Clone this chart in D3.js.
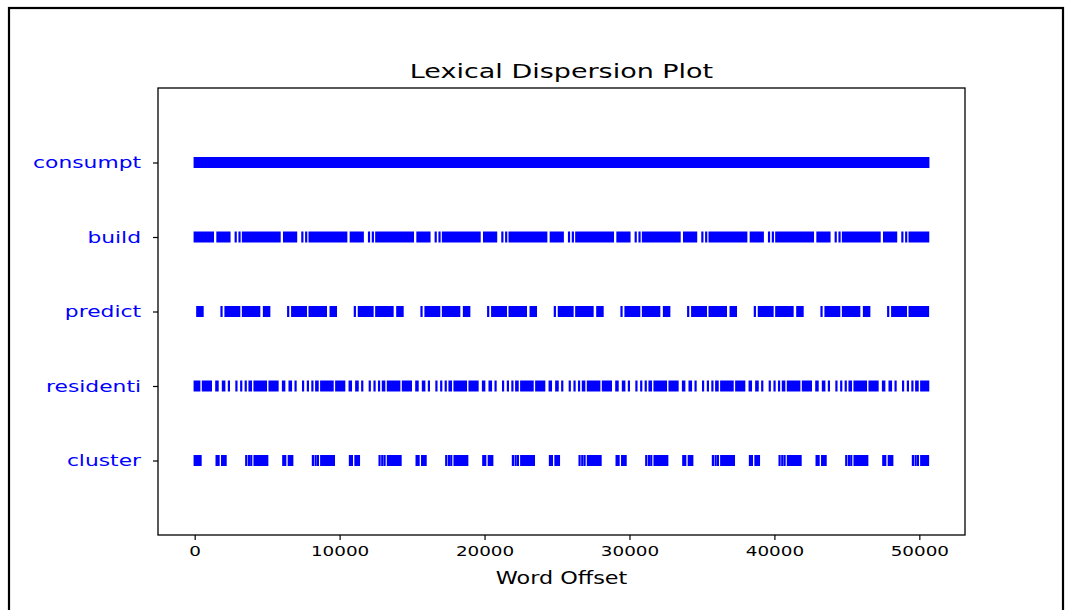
<!DOCTYPE html>
<html>
<head>
<meta charset="utf-8">
<script src="https://cdn.jsdelivr.net/npm/d3@7"></script>
<style>
  html, body { margin: 0; padding: 0; background: #fff; }
  svg { display: block; }
  text { font-family: "DejaVu Sans", sans-serif; }
</style>
</head>
<body>
<svg id="chart" width="1080" height="610"></svg>
<script>
// Words shown on the y axis, top to bottom
const words = ["consumpt", "build", "predict", "residenti", "cluster"];

// Word offsets of each occurrence: a number is a single hit,
// a pair [from, to] is a stretch of hits too dense to tell apart
const consumptHits = [
  [0, 4225], [4270, 8875], [8915, 13435], [13475, 18040], [18080, 22645],
  [22685, 27175], [27215, 31785], [31825, 36390], [36430, 40990],
  [41030, 45595], [45635, 50200], [50240, 50620]
];

const buildHits = [
  [0, 1259], [1569, 2399],
  2829, 3094, [3329, 5859], [6169, 6999],
  7429, 7694, [7929, 10459], [10769, 11599],
  12029, 12294, [12529, 15059], [15369, 16199],
  16629, 16894, [17129, 19659], [19969, 20799],
  21229, 21494, [21729, 24259], [24569, 25399],
  25829, 26094, [26329, 28859], [29169, 29999],
  30429, 30694, [30929, 33459], [33769, 34599],
  35029, 35294, [35529, 38059], [38369, 39199],
  39629, 39894, [40129, 42659], [42969, 43799],
  44229, 44494, [44729, 47259], [47569, 48399],
  48829, 49094, [49329, 50610]
];

const predictHits = [
  [179, 545],
  1851, [2127, 3073], [3329, 4454], [4779, 5145],
  6451, [6727, 7673], [7929, 9054], [9379, 9745],
  11051, [11327, 12273], [12529, 13654], [13979, 14345],
  15651, [15927, 16873], [17129, 18254], [18579, 18945],
  20251, [20527, 21473], [21729, 22854], [23179, 23545],
  24851, [25127, 26073], [26329, 27454], [27779, 28145],
  29451, [29727, 30673], [30929, 32054], [32379, 32745],
  34051, [34327, 35273], [35529, 36654], [36979, 37345],
  38651, [38927, 39873], [40129, 41254], [41579, 41945],
  43251, [43527, 44473], [44729, 45854], [46179, 46545],
  47851, [48127, 49073], [49329, 50600]
];

const residentiHits = [
  [0, 317], [566, 1118], [1491, 1581], [1947, 2043], 2361,
  2880, 3211, 3522, [3785, 3881], [4130, 4917], [5166, 5718], [6091, 6181], [6547, 6643], 6961,
  7480, 7811, 8122, [8385, 8481], [8730, 9517], [9766, 10318], [10691, 10781], [11147, 11243], 11561,
  12080, 12411, 12722, [12985, 13081], [13330, 14117], [14366, 14918], [15291, 15381], [15747, 15843], 16161,
  16680, 17011, 17322, [17585, 17681], [17930, 18717], [18966, 19518], [19891, 19981], [20347, 20443], 20761,
  21280, 21611, 21922, [22185, 22281], [22530, 23317], [23566, 24118], [24491, 24581], [24947, 25043], 25361,
  25880, 26211, 26522, [26785, 26881], [27130, 27917], [28166, 28718], [29091, 29181], [29547, 29643], 29961,
  30480, 30811, 31122, [31385, 31481], [31730, 32517], [32766, 33318], [33691, 33781], [34147, 34243], 34561,
  35080, 35411, 35722, [35985, 36081], [36330, 37117], [37366, 37918], [38291, 38381], [38747, 38843], 39161,
  39680, 40011, 40322, [40585, 40681], [40930, 41717], [41966, 42518], [42891, 42981], [43347, 43443], 43761,
  44280, 44611, 44922, [45185, 45281], [45530, 46317], [46566, 47118], [47491, 47581], [47947, 48043], 48361,
  48880, 49211, 49522, [49785, 49881], [50130, 50610]
];

const clusterHits = [
  [0, 407], [1512, 1650], [1892, 2134],
  3557, 3743, 3902, [4130, 5007], [6112, 6250], [6492, 6734],
  8157, 8343, 8502, [8730, 9607], [10712, 10850], [11092, 11334],
  12757, 12943, 13102, [13330, 14207], [15312, 15450], [15692, 15934],
  17357, 17543, 17702, [17930, 18807], [19912, 20050], [20292, 20534],
  21957, 22143, 22302, [22530, 23407], [24512, 24650], [24892, 25134],
  26557, 26743, 26902, [27130, 28007], [29112, 29250], [29492, 29734],
  31157, 31343, 31502, [31730, 32607], [33712, 33850], [34092, 34334],
  35757, 35943, 36102, [36330, 37207], [38312, 38450], [38692, 38934],
  40357, 40543, 40702, [40930, 41807], [42912, 43050], [43292, 43534],
  44957, 45143, 45302, [45530, 46407], [47512, 47650], [47892, 48134],
  49557, 49743, 49902, [50130, 50600]
];

const xTickValues = [0, 10000, 20000, 30000, 40000, 50000];
const titleText = "Lexical Dispersion Plot";
const xLabelText = "Word Offset";

const hitsByWord = [consumptHits, buildHits, predictHits, residentiHits, clusterHits];

// ---- layout ----
const svg = d3.select("#chart");
const frame = { left: 158, right: 965, top: 88, bottom: 535 };
const stretch = 1.33;          // horizontal text stretch of the figure
const markColor = "#0000ff";
const markWidth = 2.2;
const markHeight = 11;

// outer border around the figure
svg.append("rect")
  .attr("x", 9).attr("y", 8)
  .attr("width", 1054).attr("height", 700)
  .attr("fill", "#fff")
  .attr("stroke", "#000")
  .attr("stroke-width", 2.2);

// normalise hits into [from, to] spans
const rows = words.map((w, i) => ({
  word: w,
  level: words.length - 1 - i,
  spans: hitsByWord[i].map(h => Array.isArray(h) ? h : [h, h])
}));

const allOffsets = rows.flatMap(r => r.spans.flat());
const xMin = d3.min(allOffsets), xMax = d3.max(allOffsets);
const pad = (xMax - xMin) * 0.05;

const x = d3.scaleLinear()
  .domain([xMin - pad, xMax + pad])
  .range([frame.left, frame.right]);

const y = d3.scaleLinear()
  .domain([-1, words.length])
  .range([frame.bottom, frame.top]);

// dispersion marks
const rowG = svg.append("g").selectAll("g")
  .data(rows)
  .join("g");

rowG.selectAll("rect")
  .data(d => d.spans.map(s => ({ s, level: d.level })))
  .join("rect")
  .attr("x", d => x(d.s[0]) - markWidth / 2)
  .attr("width", d => x(d.s[1]) - x(d.s[0]) + markWidth)
  .attr("y", d => y(d.level) - markHeight / 2)
  .attr("height", markHeight)
  .attr("fill", markColor);

// axes
const xAxis = d3.axisBottom(x)
  .tickValues(xTickValues)
  .tickFormat(d3.format("d"))
  .tickSize(5)
  .tickSizeOuter(0)
  .tickPadding(6);

const gx = svg.append("g")
  .attr("transform", `translate(0,${frame.bottom})`)
  .call(xAxis);
gx.select(".domain").remove();
gx.selectAll("line").attr("stroke", "#000").attr("stroke-width", 1.2);
gx.selectAll("text")
  .attr("font-size", 13.8)
  .attr("fill", "#000")
  .attr("font-family", "DejaVu Sans")
  .attr("transform", `scale(${stretch},1)`);

const yAxis = d3.axisLeft(y)
  .tickValues(rows.map(r => r.level))
  .tickFormat(v => rows.find(r => r.level === v).word)
  .tickSize(5)
  .tickSizeOuter(0)
  .tickPadding(12);

const gy = svg.append("g")
  .attr("transform", `translate(${frame.left},0)`)
  .call(yAxis);
gy.select(".domain").remove();
gy.selectAll("line").attr("stroke", "#000").attr("stroke-width", 1.2);
gy.selectAll("text")
  .attr("font-size", 16.4)
  .attr("fill", markColor)
  .attr("font-family", "DejaVu Sans")
  .attr("x", -17 / stretch)
  .attr("transform", `scale(${stretch},1)`);

// plot frame
svg.append("rect")
  .attr("x", frame.left).attr("y", frame.top)
  .attr("width", frame.right - frame.left)
  .attr("height", frame.bottom - frame.top)
  .attr("fill", "none")
  .attr("stroke", "#000")
  .attr("stroke-width", 1.3);

// title and axis label
const cx = (frame.left + frame.right) / 2;
svg.append("text")
  .attr("transform", `translate(${cx},78) scale(${stretch},1)`)
  .attr("text-anchor", "middle")
  .attr("font-size", 20.3)
  .attr("fill", "#000")
  .text(titleText);

svg.append("text")
  .attr("transform", `translate(${cx},584) scale(${stretch},1)`)
  .attr("text-anchor", "middle")
  .attr("font-size", 16.8)
  .attr("fill", "#000")
  .text(xLabelText);
</script>
</body>
</html>
